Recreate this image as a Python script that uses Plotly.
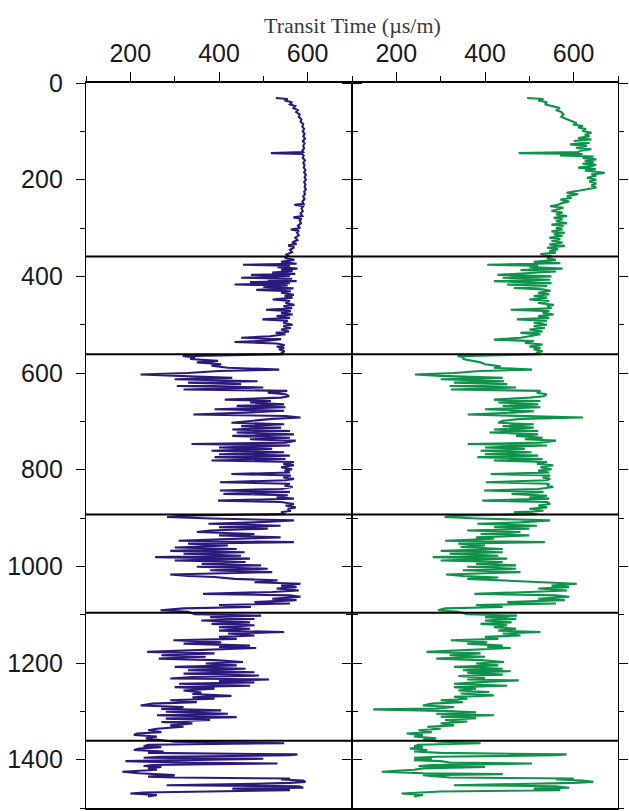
import plotly.graph_objects as go

# ---- Data (depth m, transit time µs/m) ----
zone_boundaries = [359, 561, 893, 1096, 1361]

blue_zone_a = [(31, 528), (33, 555), (36, 548), (40, 565), (44, 560), (48, 572), (52, 568), (56, 578),
               (60, 574), (65, 582), (70, 580), (75, 586), (80, 584), (85, 590), (90, 588), (95, 592),
               (100, 589), (105, 593), (110, 590), (115, 594), (120, 589), (125, 593), (130, 590),
               (135, 592), (140, 588), (143, 590), (145, 517), (147, 588), (150, 591), (155, 589),
               (160, 594), (165, 590), (170, 593), (175, 591), (180, 595), (185, 592), (190, 596),
               (195, 593), (200, 596), (205, 592), (210, 595), (215, 593), (220, 596), (225, 592),
               (230, 594), (235, 590), (240, 593), (245, 588), (250, 591), (252, 570), (255, 590),
               (260, 586), (265, 589), (270, 584), (275, 588), (278, 568), (281, 586), (285, 582),
               (290, 585), (295, 578), (300, 583), (303, 562), (306, 580), (310, 576), (315, 580),
               (320, 572), (325, 577), (330, 565), (333, 575), (336, 556), (340, 570), (345, 560),
               (350, 565), (355, 552), (358, 556)]
blue_zone_b = [(362, 548), (366, 570), (370, 540), (374, 575), (376, 454), (378, 560), (381, 532),
               (384, 577), (386, 540), (389, 566), (392, 520), (395, 572), (397, 472), (399, 560),
               (401, 530), (403, 450), (405, 565), (407, 510), (410, 575), (412, 470), (414, 560),
               (417, 435), (419, 555), (422, 500), (425, 568), (428, 484), (431, 562), (434, 540),
               (438, 569), (441, 548), (444, 566), (448, 521), (451, 560), (455, 550), (459, 570),
               (462, 545), (466, 565), (469, 506), (472, 562), (476, 540), (479, 566), (482, 530),
               (486, 560), (489, 498), (492, 555), (496, 545), (500, 566), (503, 545), (507, 562),
               (510, 540), (514, 558), (517, 528), (520, 550), (524, 515), (527, 450), (530, 540),
               (533, 510), (536, 435), (539, 530), (542, 548), (545, 530), (548, 547), (551, 535),
               (555, 548), (558, 540), (561, 545)]
blue_zone_c = [(565, 318), (568, 346), (571, 335), (575, 398), (578, 350), (582, 405), (585, 383),
               (589, 420), (593, 536), (596, 400), (600, 330), (603, 223), (606, 300), (610, 430),
               (613, 300), (617, 487), (620, 330), (623, 450), (627, 305), (630, 500), (634, 320),
               (637, 554), (641, 510), (644, 550), (648, 558), (651, 540), (655, 413), (658, 517),
               (661, 470), (665, 547), (668, 440), (671, 550), (675, 390), (678, 547), (682, 460),
               (686, 342), (689, 550), (692, 584), (695, 520), (699, 480), (703, 428), (706, 547),
               (710, 450), (713, 540), (717, 430), (720, 560), (723, 440), (727, 569), (730, 430),
               (734, 560), (737, 470), (740, 573), (744, 550), (747, 338), (750, 560), (754, 400),
               (757, 520), (761, 383), (764, 547), (768, 400), (771, 560), (774, 390), (778, 550),
               (781, 383), (784, 569), (788, 545), (791, 569), (795, 540), (799, 565), (802, 548),
               (806, 560), (809, 428), (812, 562), (816, 545), (819, 569), (822, 550), (826, 402),
               (829, 560), (833, 548), (836, 566), (840, 540), (843, 402), (846, 560), (850, 410),
               (853, 555), (857, 530), (860, 569), (864, 398), (867, 540), (871, 569), (874, 550),
               (878, 573), (881, 555), (885, 562), (888, 540), (892, 550)]
blue_zone_d = [(895, 320), (898, 283), (901, 383), (905, 569), (909, 480), (912, 376), (916, 539),
               (919, 400), (922, 510), (926, 380), (929, 350), (933, 480), (936, 400), (940, 539),
               (943, 420), (947, 309), (950, 569), (953, 330), (957, 420), (961, 300), (964, 440),
               (968, 290), (971, 458), (974, 320), (978, 450), (981, 256), (984, 470), (988, 300),
               (991, 460), (995, 361), (998, 495), (1001, 350), (1005, 510), (1008, 380), (1012, 520),
               (1015, 400), (1017, 290), (1020, 330), (1022, 390), (1026, 435), (1029, 532),
               (1033, 480), (1036, 584), (1040, 540), (1043, 575), (1046, 530), (1050, 580),
               (1053, 520), (1057, 364), (1060, 560), (1063, 584), (1067, 520), (1070, 575),
               (1074, 480), (1077, 560), (1080, 400), (1084, 472), (1087, 320), (1091, 268),
               (1094, 330)]
blue_zone_e = [(1099, 346), (1102, 495), (1105, 380), (1109, 480), (1112, 360), (1116, 470),
               (1119, 383), (1122, 480), (1126, 400), (1129, 470), (1133, 400), (1136, 547),
               (1139, 420), (1143, 480), (1146, 400), (1150, 440), (1153, 297), (1157, 405),
               (1160, 320), (1164, 470), (1167, 400), (1169, 484), (1172, 398), (1175, 300),
               (1177, 238), (1180, 390), (1184, 270), (1187, 370), (1191, 264), (1194, 390),
               (1198, 454), (1201, 370), (1205, 440), (1208, 300), (1212, 460), (1215, 330),
               (1219, 480), (1222, 320), (1226, 490), (1229, 340), (1232, 290), (1234, 513),
               (1237, 400), (1240, 480), (1243, 310), (1247, 470), (1250, 300), (1253, 390),
               (1257, 320), (1261, 360), (1264, 340), (1268, 428), (1271, 340), (1274, 390),
               (1277, 290), (1281, 350), (1284, 250), (1288, 223), (1291, 320), (1295, 270),
               (1298, 405), (1301, 280), (1305, 420), (1308, 260), (1312, 440), (1315, 280),
               (1318, 380), (1322, 270), (1325, 340), (1329, 290), (1332, 320), (1336, 260),
               (1339, 240), (1343, 270), (1346, 215), (1349, 208), (1352, 260), (1356, 235),
               (1359, 270)]
blue_zone_f = [(1363, 300), (1366, 547), (1369, 240), (1372, 230), (1374, 270), (1377, 220),
               (1380, 208), (1383, 275), (1386, 240), (1389, 577), (1391, 560), (1394, 270),
               (1396, 230), (1398, 500), (1401, 240), (1403, 189), (1406, 300), (1408, 532),
               (1411, 250), (1413, 230), (1415, 270), (1418, 240), (1421, 260), (1423, 200),
               (1425, 182), (1428, 220), (1430, 260), (1432, 300), (1435, 240), (1437, 300),
               (1439, 560), (1441, 540), (1443, 590), (1446, 595), (1448, 560), (1450, 480),
               (1453, 282), (1455, 580), (1458, 590), (1460, 430), (1463, 560), (1466, 300),
               (1468, 230), (1470, 200), (1473, 260), (1476, 240)]

green_zone_a = [(31, 495), (33, 532), (36, 520), (40, 540), (44, 535), (48, 556), (52, 569), (56, 560),
                (60, 572), (65, 577), (70, 572), (75, 585), (80, 600), (83, 607), (86, 598), (89, 621),
                (92, 610), (95, 628), (99, 620), (103, 640), (107, 625), (110, 636), (114, 610),
                (117, 640), (120, 600), (124, 636), (127, 592), (130, 630), (134, 605), (137, 640),
                (140, 615), (143, 610), (145, 476), (147, 620), (150, 569), (152, 645), (155, 620),
                (158, 651), (161, 625), (164, 645), (167, 620), (169, 651), (172, 640), (175, 610),
                (178, 650), (181, 625), (184, 655), (186, 670), (189, 640), (192, 651), (196, 630),
                (200, 651), (204, 635), (208, 651), (212, 640), (216, 651), (220, 630), (224, 600),
                (227, 584), (230, 610), (234, 585), (238, 595), (241, 570), (245, 590), (248, 575),
                (252, 565), (255, 547), (258, 577), (262, 560), (265, 550), (268, 575), (272, 560),
                (275, 585), (279, 555), (282, 575), (286, 560), (290, 585), (293, 550), (296, 577),
                (300, 560), (303, 575), (307, 550), (310, 580), (313, 555), (316, 575), (320, 545),
                (323, 570), (327, 550), (330, 575), (334, 545), (337, 580), (341, 540), (344, 565),
                (348, 545), (351, 560), (354, 525), (358, 550)]
green_zone_b = [(362, 540), (366, 560), (370, 510), (373, 570), (376, 405), (378, 520), (381, 500),
                (384, 575), (387, 480), (390, 560), (393, 500), (397, 428), (400, 550), (403, 440),
                (407, 547), (410, 420), (414, 550), (417, 450), (420, 540), (424, 465), (427, 530),
                (430, 548), (434, 520), (437, 545), (441, 510), (444, 540), (448, 500), (451, 545),
                (455, 520), (459, 555), (462, 540), (466, 550), (469, 458), (472, 545), (476, 530),
                (479, 555), (482, 520), (486, 545), (489, 472), (492, 540), (496, 510), (500, 540),
                (503, 510), (507, 535), (510, 500), (514, 530), (517, 480), (520, 525), (524, 500),
                (527, 480), (531, 420), (534, 510), (538, 490), (541, 530), (545, 500), (548, 525),
                (551, 510), (555, 530), (558, 515), (561, 525)]
green_zone_c = [(565, 338), (568, 353), (571, 350), (575, 375), (578, 390), (582, 400), (586, 435),
                (589, 420), (593, 506), (596, 390), (600, 330), (603, 242), (606, 300), (610, 440),
                (613, 300), (617, 443), (620, 330), (623, 450), (627, 320), (630, 470), (634, 323),
                (637, 525), (641, 517), (644, 539), (648, 532), (651, 500), (655, 420), (658, 525),
                (661, 430), (665, 520), (668, 440), (671, 525), (675, 400), (679, 510), (682, 460),
                (686, 361), (689, 500), (692, 621), (695, 480), (699, 440), (703, 430), (706, 510),
                (710, 440), (713, 510), (717, 420), (720, 520), (723, 410), (727, 520), (730, 470),
                (734, 530), (737, 490), (740, 560), (744, 525), (747, 361), (750, 540), (754, 400),
                (757, 490), (761, 390), (764, 505), (768, 400), (771, 520), (774, 383), (778, 530),
                (781, 420), (784, 540), (788, 517), (791, 554), (795, 525), (799, 550), (802, 520),
                (806, 545), (809, 413), (812, 547), (816, 530), (819, 547), (822, 540), (826, 402),
                (829, 545), (833, 540), (836, 554), (840, 520), (843, 398), (846, 532), (850, 460),
                (854, 540), (857, 500), (860, 545), (864, 394), (867, 540), (871, 547), (874, 520),
                (878, 540), (881, 500), (885, 532), (888, 465), (892, 520)]
green_zone_d = [(895, 330), (898, 309), (901, 383), (905, 547), (909, 480), (912, 383), (916, 517),
                (919, 420), (922, 500), (926, 360), (929, 480), (933, 390), (936, 500), (940, 380),
                (943, 420), (947, 310), (950, 535), (953, 340), (957, 400), (960, 345), (964, 440),
                (968, 300), (971, 440), (974, 320), (978, 430), (981, 282), (984, 450), (988, 300),
                (991, 440), (995, 380), (998, 470), (1001, 360), (1005, 470), (1008, 350), (1012, 480),
                (1015, 380), (1017, 312), (1020, 350), (1023, 430), (1026, 360), (1030, 470),
                (1033, 520), (1036, 607), (1040, 550), (1043, 590), (1046, 520), (1050, 585),
                (1053, 500), (1057, 376), (1060, 560), (1063, 590), (1067, 520), (1070, 580),
                (1074, 450), (1077, 560), (1080, 380), (1084, 440), (1087, 310), (1091, 294),
                (1094, 340)]
green_zone_e = [(1099, 361), (1102, 472), (1105, 400), (1109, 470), (1112, 400), (1116, 460),
                (1119, 390), (1122, 450), (1126, 420), (1129, 470), (1133, 430), (1136, 525),
                (1139, 440), (1143, 480), (1146, 400), (1150, 430), (1153, 323), (1157, 405),
                (1160, 360), (1164, 440), (1167, 405), (1169, 458), (1172, 380), (1175, 300),
                (1177, 268), (1180, 390), (1184, 320), (1187, 400), (1191, 290), (1194, 390),
                (1198, 443), (1201, 380), (1205, 430), (1208, 330), (1212, 440), (1215, 350),
                (1217, 458), (1220, 360), (1224, 440), (1227, 340), (1231, 400), (1234, 360),
                (1236, 476), (1240, 380), (1243, 330), (1247, 450), (1250, 330), (1253, 380),
                (1257, 340), (1260, 410), (1263, 345), (1267, 420), (1270, 330), (1274, 360),
                (1277, 300), (1281, 350), (1284, 280), (1288, 260), (1291, 330), (1294, 290),
                (1296, 148), (1299, 300), (1302, 380), (1305, 290), (1308, 420), (1311, 300),
                (1314, 380), (1318, 310), (1321, 360), (1325, 300), (1329, 330), (1332, 270),
                (1336, 300), (1339, 250), (1343, 280), (1346, 223), (1349, 260), (1352, 240),
                (1356, 290), (1359, 260)]
green_zone_f = [(1363, 300), (1366, 390), (1369, 250), (1372, 240), (1374, 260), (1377, 230),
                (1380, 270), (1383, 240), (1386, 300), (1389, 584), (1391, 560), (1394, 290),
                (1396, 240), (1398, 280), (1401, 240), (1403, 300), (1406, 320), (1408, 506),
                (1411, 280), (1413, 250), (1415, 400), (1418, 260), (1421, 240), (1423, 200),
                (1425, 167), (1428, 260), (1430, 440), (1432, 260), (1435, 300), (1437, 320),
                (1439, 600), (1441, 560), (1443, 620), (1446, 644), (1448, 600), (1450, 500),
                (1453, 330), (1455, 560), (1458, 590), (1460, 510), (1463, 570), (1466, 300),
                (1468, 230), (1470, 212), (1473, 260), (1476, 240)]

x_tickvals = [200, 400, 600]
y_tickvals = [0, 200, 400, 600, 800, 1000, 1200, 1400]
title_text = "Transit Time (µs/m)"

blue_log = blue_zone_a + blue_zone_b + blue_zone_c + blue_zone_d + blue_zone_e + blue_zone_f
green_log = green_zone_a + green_zone_b + green_zone_c + green_zone_d + green_zone_e + green_zone_f
blue_depth, blue_tt = zip(*blue_log)
green_depth, green_tt = zip(*green_log)

fig = go.Figure()
fig.add_trace(go.Scatter(x=blue_tt, y=blue_depth, mode="lines", xaxis="x", yaxis="y",
                         line=dict(color="#2b1a7c", width=2.1), showlegend=False))
fig.add_trace(go.Scatter(x=green_tt, y=green_depth, mode="lines", xaxis="x2", yaxis="y2",
                         line=dict(color="#0f934a", width=2.1), showlegend=False))

tickfont = dict(family="Liberation Sans, Arial, sans-serif", size=25, color="#1a1a1a")
xcommon = dict(range=[100, 700], side="top", tickvals=x_tickvals, ticks="outside", ticklen=9,
               tickwidth=1.2, tickcolor="black", showgrid=False, zeroline=False,
               showline=True, linecolor="black", linewidth=2, mirror=True, tickfont=tickfont,
               minor=dict(tickvals=[100, 300, 500, 700], ticks="outside", ticklen=5,
                          tickcolor="black", tickwidth=1.2))
ycommon = dict(range=[1500, 0], tickvals=y_tickvals, ticks="outside", ticklen=9, tickwidth=1.2,
               tickcolor="black", showgrid=False, zeroline=False, showline=True,
               linecolor="black", linewidth=1.4, mirror="ticks", tickfont=tickfont,
               minor=dict(dtick=100, tick0=0, ticks="outside", ticklen=5, tickcolor="black",
                          tickwidth=1.2))

fig.update_layout(
    width=629, height=811,
    margin=dict(l=86, r=5, t=83, b=1),
    paper_bgcolor="white", plot_bgcolor="white",
    xaxis=dict(domain=[0, 0.5], anchor="y", **xcommon),
    xaxis2=dict(domain=[0.5, 1], anchor="y2", **xcommon),
    yaxis=dict(anchor="x", ticklabelstandoff=8, **ycommon),
    yaxis2=dict(anchor="x2", matches="y", showticklabels=False, **ycommon),
)

for d in zone_boundaries:
    fig.add_shape(type="line", xref="paper", x0=0, x1=1, yref="y", y0=d, y1=d,
                  line=dict(color="black", width=2))

fig.add_annotation(text=title_text, xref="paper", yref="paper", x=0.5, y=1,
                   xanchor="center", yanchor="middle", yshift=58, showarrow=False,
                   font=dict(family="Liberation Serif, Times New Roman, serif", size=22,
                             color="#3a3a3a"))

fig.write_html("out.html")
